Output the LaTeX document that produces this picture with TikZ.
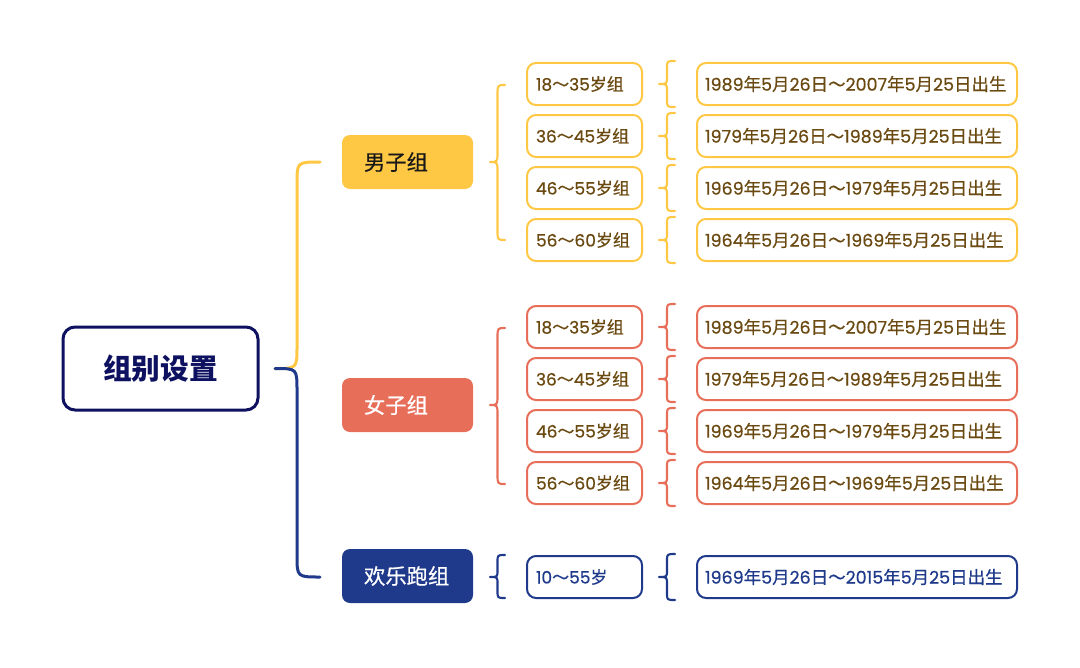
\documentclass[tikz,border=0pt]{standalone}
\usepackage{fontspec}
\setmainfont{Poppins}[FakeBold=0.5]
\newfontfamily\cjk{Noto Sans CJK SC}[FakeBold=0.6]
\newfontfamily\cjkroot{Noto Sans CJK SC}
\definecolor{cyel}{HTML}{FFC844}
\definecolor{csal}{HTML}{E76F5A}
\definecolor{cnav}{HTML}{1F3A8A}
\definecolor{croot}{HTML}{0D1160}
\definecolor{cbrn}{HTML}{6B4A12}
\newcommand\zh[1]{{\cjk #1}}
\newcommand\agetxt[2]{#1\zh{～}#2\zh{岁组}}
\newcommand\datetxt[2]{#1\zh{年}5\zh{月}26\zh{日～}#2\zh{年}5\zh{月}25\zh{日出生}}
% brace: #1 end x, #2 tip x, #3 top y, #4 tip y, #5 bottom y, #6 radius, #7 colour
\newcommand\mybrace[7]{%
  \draw[bracestyle,draw=#7] (#1,#3) .. controls ({(#1+#2)/2},#3) .. ({(#1+#2)/2},{#3+#6})
    -- ({(#1+#2)/2},{#4-#6}) .. controls ({(#1+#2)/2},#4) .. (#2,#4)
    .. controls ({(#1+#2)/2},#4) .. ({(#1+#2)/2},{#4+#6})
    -- ({(#1+#2)/2},{#5-#6}) .. controls ({(#1+#2)/2},#5) .. (#1,#5);}
\tikzset{
  bracestyle/.style={line width=1.6pt, line cap=round, line join=round},
  agebox/.style={draw=#1, line width=1.5pt, rounded corners=6.75pt, minimum height=31.5pt,
     inner xsep=6.75pt, text width=72.75pt, align=left, text=cbrn,
     font=\fontsize{12.75}{14}\selectfont},
  datebox/.style={draw=#1, line width=1.5pt, rounded corners=6.75pt, minimum height=31.5pt,
     inner xsep=6pt, text width=228pt, align=left, text=cbrn,
     font=\fontsize{13.1}{14}\selectfont},
  groupbox/.style={fill=#1, rounded corners=6pt, minimum height=40.5pt, inner xsep=16.5pt,
     text width=65.25pt, align=left, font=\fontsize{16}{18}\selectfont\cjk},
  rootbox/.style={draw=croot, line width=2.25pt, fill=white, rounded corners=9pt,
     minimum width=146.25pt, minimum height=62.25pt, text=croot,
     font=\fontsize{21.5}{24}\selectfont\cjkroot\bfseries},
  conn/.style={line width=2.25pt, line cap=round}
}
\begin{document}
\begin{tikzpicture}[x=0.75pt,y=-0.75pt]
\useasboundingbox (0,0) rectangle (1080,667);
% root
\node[rootbox] (root) at (160.5,368.5) {组别设置};
% groups
\node[groupbox=cyel, text=black!90] (male) at (407.5,162) {男子组};
\node[groupbox=csal, text=white] (female) at (407.5,405) {女子组};
\node[groupbox=cnav, text=white] (fun) at (407.5,576) {欢乐跑组};
% connectors
\coordinate (rootout) at (275,368.5);
\coordinate (maleIn) at (320,162);
\coordinate (funIn) at (320,577);
\draw[conn,cyel] (rootout) .. controls (297,368.5) .. (297,346) -- (297,184) .. controls (297,162) .. (maleIn);
\draw[conn,cnav] (rootout) .. controls (297,368.5) .. (297,391) -- (297,555) .. controls (297,577) .. (funIn);
% male rows
\mybrace{505}{490}{85}{162}{240}{10}{cyel}
\node[agebox=cyel] (m1) at (584.5,84) {\agetxt{18}{35}};
\node[agebox=cyel] (m2) at (584.5,136) {\agetxt{36}{45}};
\node[agebox=cyel] (m3) at (584.5,188) {\agetxt{46}{55}};
\node[agebox=cyel] (m4) at (584.5,240) {\agetxt{56}{60}};
\node[datebox=cyel] (md1) at (857,84) {\datetxt{1989}{2007}};
\node[datebox=cyel] (md2) at (857,136) {\datetxt{1979}{1989}};
\node[datebox=cyel] (md3) at (857,188) {\datetxt{1969}{1979}};
\node[datebox=cyel] (md4) at (857,240) {\datetxt{1964}{1969}};
\foreach \y in {84,136,188,240} {\mybrace{675}{659}{\y-23}{\y}{\y+23}{7}{cyel}}
% female rows
\mybrace{505}{490}{328}{405}{484}{10}{csal}
\node[agebox=csal] (f1) at (584.5,327) {\agetxt{18}{35}};
\node[agebox=csal] (f2) at (584.5,379) {\agetxt{36}{45}};
\node[agebox=csal] (f3) at (584.5,431) {\agetxt{46}{55}};
\node[agebox=csal] (f4) at (584.5,483) {\agetxt{56}{60}};
\node[datebox=csal] (fd1) at (857,327) {\datetxt{1989}{2007}};
\node[datebox=csal] (fd2) at (857,379) {\datetxt{1979}{1989}};
\node[datebox=csal] (fd3) at (857,431) {\datetxt{1969}{1979}};
\node[datebox=csal] (fd4) at (857,483) {\datetxt{1964}{1969}};
\foreach \y in {327,379,431,483} {\mybrace{675}{659}{\y-23}{\y}{\y+23}{7}{csal}}
% fun run
\mybrace{505}{490}{555}{577}{598}{7}{cnav}
\node[agebox=cnav, text=cnav] (r1) at (584.5,577) {10\zh{～}55\zh{岁}};
\node[datebox=cnav, text=cnav] (rd1) at (857,577) {\datetxt{1969}{2015}};
\mybrace{675}{659}{554}{577}{600}{7}{cnav}
\end{tikzpicture}
\end{document}
